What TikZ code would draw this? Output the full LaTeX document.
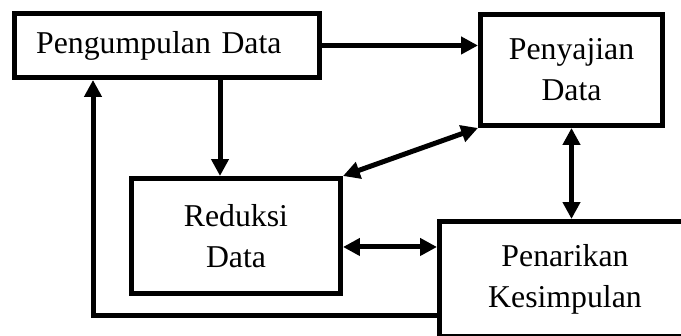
\documentclass[tikz,border=0pt]{standalone}
\usepackage{fontspec}
\setmainfont{Liberation Serif}
\usetikzlibrary{arrows.meta}

\begin{document}
\begin{tikzpicture}[
  box/.style={draw, line width=0.0625cm, align=center, inner sep=0pt, font=\fontsize{11.3}{14.5}\selectfont},
  arr/.style={line width=0.0625cm, -{Triangle[length=0.21cm,width=0.21cm]}},
  darr/.style={line width=0.0625cm, {Triangle[length=0.21cm,width=0.21cm]}-{Triangle[length=0.21cm,width=0.21cm]}}]
\useasboundingbox (0,0) rectangle (8.5125,4.2);
\node[box, minimum width=3.8125cm, minimum height=0.8cm, text width=3.27cm, align=left, inner xsep=0.27cm] (pengumpulan) at (2.0875,3.63125) {Pengumpulan Data};
\node[box, minimum width=2.275cm, minimum height=1.3875cm] (penyajian) at (7.14375,3.325) {Penyajian\\Data};
\node[box, minimum width=2.6125cm, minimum height=1.4375cm] (reduksi) at (2.95,1.25) {Reduksi\\Data};
\node[box, minimum width=3.1375cm, minimum height=1.4375cm] (penarikan) at (7.0625,0.7125) {Penarikan\\Kesimpulan};
\coordinate (loop) at (1.1625,0.25);
\draw[arr] (pengumpulan.east) -- (pengumpulan.east -| penyajian.west);
\draw[arr] ([xshift=-0.2cm]reduksi.north |- pengumpulan.south) -- ([xshift=-0.2cm]reduksi.north);
\draw[darr] (penyajian.south west) -- (reduksi.north east);
\draw[darr] (penyajian.south) -- (penyajian.south |- penarikan.north);
\draw[darr] ([yshift=-0.1375cm]reduksi.east) -- ([yshift=-0.1375cm]reduksi.east -| penarikan.west);
\draw[arr] (loop -| penarikan.west) -- (loop) -- (loop |- pengumpulan.south);
\end{tikzpicture}
\end{document}
